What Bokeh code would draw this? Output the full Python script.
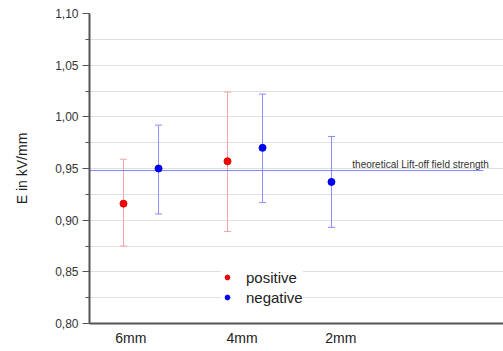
from bokeh.plotting import figure
from bokeh.models import (ColumnDataSource, FixedTicker, CustomJSTickFormatter, Whisker,
                          TeeHead, Legend, LegendItem, Range1d)
from bokeh.core.properties import value
from bokeh.embed import file_html
from bokeh.resources import INLINE

# ---- data ----
categories = ["6mm", "4mm", "2mm"]
label_pos = [1.07, 2.14, 3.09]

pos_x = [1, 2]
pos_val = [0.916, 0.957]
pos_hi = [0.959, 1.024]
pos_lo = [0.875, 0.889]

neg_x = [1.337, 2.337, 3.0]
neg_val = [0.950, 0.970, 0.937]
neg_hi = [0.992, 1.022, 0.981]
neg_lo = [0.906, 0.917, 0.893]

theory_val = 0.948
theory_x = [0.673, 4.46]
theory_label = "theoretical Lift-off field strength"
theory_label_x = 3.20

y_major = [0.80, 0.85, 0.90, 0.95, 1.00, 1.05, 1.10]
y_minor = [0.825, 0.875, 0.925, 0.975, 1.025, 1.075]

FONT = "Liberation Sans"

p = figure(width=503, height=351, output_backend="svg", toolbar_location=None,
           x_range=Range1d(0.673, 4.654), y_range=Range1d(0.80, 1.10),
           min_border_left=89, min_border_top=13, min_border_bottom=28, min_border_right=0)
p.outline_line_color = None
p.background_fill_color = "white"

# grid
p.xgrid.grid_line_color = None
p.ygrid.ticker = FixedTicker(ticks=y_major, minor_ticks=y_minor)
p.ygrid.grid_line_color = "#e0e0e0"
p.ygrid.minor_grid_line_color = "#e0e0e0"

# y axis
ya = p.yaxis[0]
ya.ticker = FixedTicker(ticks=y_major, minor_ticks=y_minor)
ya.formatter = CustomJSTickFormatter(code="return tick.toFixed(2).replace('.', ',');")
ya.axis_line_color = "#555555"
ya.axis_line_width = 2
ya.major_tick_line_color = "#555555"
ya.minor_tick_line_color = "#555555"
ya.major_tick_in = 0
ya.major_tick_out = 7
ya.minor_tick_in = 0
ya.minor_tick_out = 4
ya.major_label_standoff = 4
ya.major_label_text_font = FONT
ya.major_label_text_font_size = "12px"
ya.major_label_text_color = "#333333"
ya.axis_label = "E in kV/mm"
ya.axis_label_text_font = FONT
ya.axis_label_text_font_size = "14px"
ya.axis_label_text_font_style = "normal"
ya.axis_label_text_color = "#222222"
ya.axis_label_standoff = 22

# x axis
xa = p.xaxis[0]
xa.ticker = FixedTicker(ticks=label_pos, minor_ticks=[])
xa.formatter = CustomJSTickFormatter(args=dict(pos=label_pos, labels=categories), code="""
const i = pos.findIndex(p => Math.abs(p - tick) < 1e-6);
return i >= 0 ? labels[i] : "";
""")
xa.axis_line_color = "#555555"
xa.axis_line_width = 2
xa.major_tick_in = 0
xa.major_tick_out = 0
xa.minor_tick_in = 0
xa.minor_tick_out = 0
xa.major_label_standoff = 6
xa.major_label_text_font = FONT
xa.major_label_text_font_size = "14px"
xa.major_label_text_color = "#222222"

# theoretical line
p.line(x=theory_x, y=[theory_val, theory_val], line_color="#8080ff", line_width=1)
p.text(x=[theory_label_x], y=[theory_val], text=[theory_label], text_font=value(FONT),
       text_font_size="10px", text_color="#333333", text_baseline="alphabetic",
       text_align="left", y_offset=-6)

# error bars
src_pos = ColumnDataSource(dict(x=pos_x, y=pos_val, hi=pos_hi, lo=pos_lo))
src_neg = ColumnDataSource(dict(x=neg_x, y=neg_val, hi=neg_hi, lo=neg_lo))

for src, col in ((src_pos, "#f4a4a4"), (src_neg, "#8c8cff")):
    w = Whisker(base="x", upper="hi", lower="lo", source=src, dimension="height",
                line_color=col, line_width=1,
                upper_head=TeeHead(size=7, line_color=col, line_width=1),
                lower_head=TeeHead(size=7, line_color=col, line_width=1))
    p.add_layout(w)

r_pos = p.scatter(x="x", y="y", source=src_pos, size=7, fill_color="#ff0000",
                  line_color="#e00000", marker="circle")
r_neg = p.scatter(x="x", y="y", source=src_neg, size=7, fill_color="#0000ff",
                  line_color="#0000e0", marker="circle")

legend = Legend(items=[LegendItem(label="positive", renderers=[r_pos]),
                       LegendItem(label="negative", renderers=[r_neg])],
                location=(132, 16), padding=10, margin=0, spacing=0,
                glyph_width=12, glyph_height=12, label_height=20, label_standoff=13,
                label_text_font=FONT, label_text_font_size="15px", label_text_color="#222222",
                border_line_color=None, background_fill_color="white", background_fill_alpha=1.0)
p.add_layout(legend)

open("out.html", "w").write(file_html(p, INLINE))
